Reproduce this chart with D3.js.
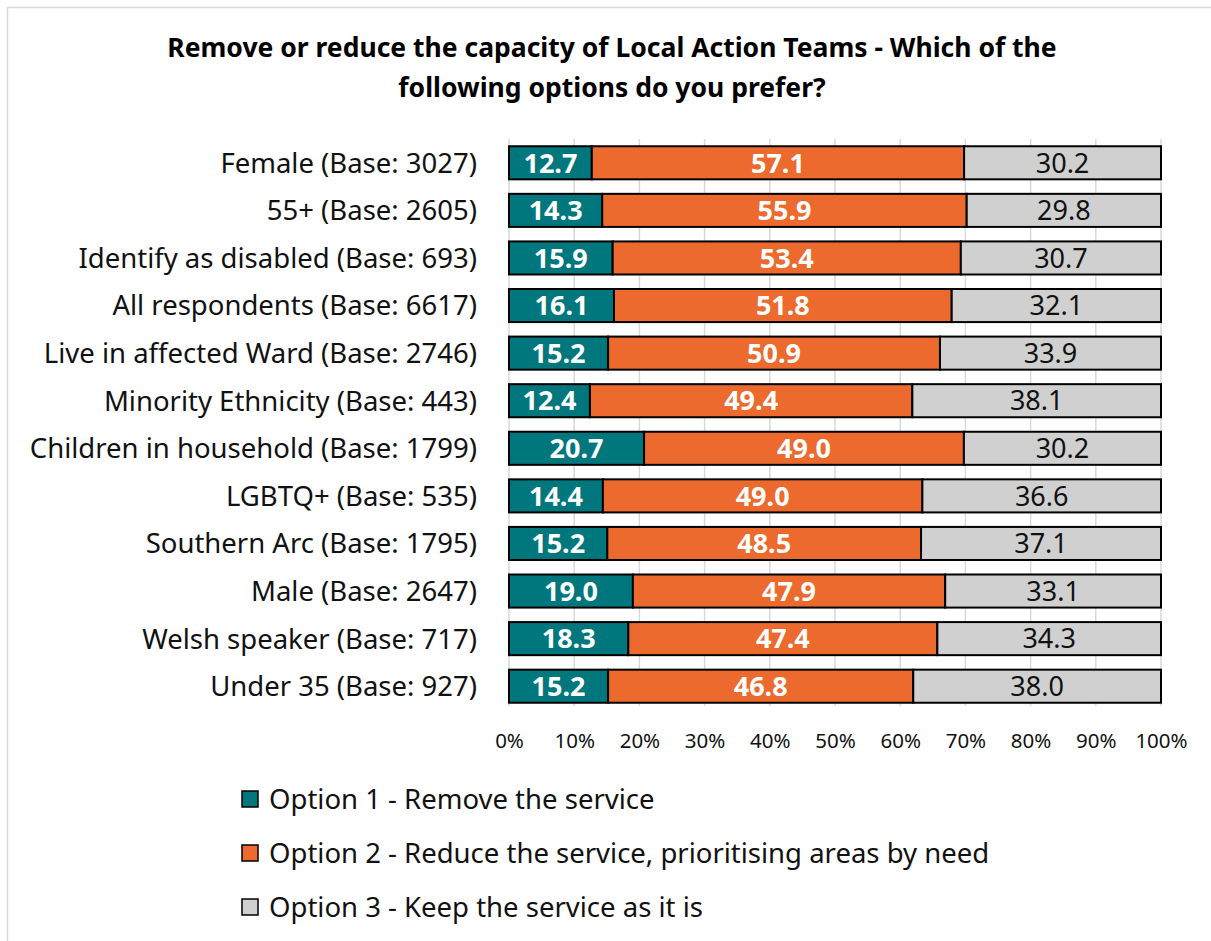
<!DOCTYPE html>
<html>
<head>
<meta charset="utf-8">
<script src="https://cdn.jsdelivr.net/npm/d3@7"></script>
<style>
  body { margin: 0; background: #fff; }
  svg { font-family: "Noto Sans", sans-serif; }
</style>
</head>
<body>
<svg id="chart" width="1211" height="941"></svg>
<script>
// chart data
const categories = [
    "Female (Base: 3027)",
    "55+ (Base: 2605)",
    "Identify as disabled (Base: 693)",
    "All respondents (Base: 6617)",
    "Live in affected Ward (Base: 2746)",
    "Minority Ethnicity (Base: 443)",
    "Children in household (Base: 1799)",
    "LGBTQ+ (Base: 535)",
    "Southern Arc (Base: 1795)",
    "Male (Base: 2647)",
    "Welsh speaker (Base: 717)",
    "Under 35 (Base: 927)"
];
const option1 = [12.7, 14.3, 15.9, 16.1, 15.2, 12.4, 20.7, 14.4, 15.2, 19.0, 18.3, 15.2];
const option2 = [57.1, 55.9, 53.4, 51.8, 50.9, 49.4, 49.0, 49.0, 48.5, 47.9, 47.4, 46.8];
const option3 = [30.2, 29.8, 30.7, 32.1, 33.9, 38.1, 30.2, 36.6, 37.1, 33.1, 34.3, 38.0];
const seriesNames = [
    "Option 1 - Remove the service",
    "Option 2 - Reduce the service, prioritising areas by need",
    "Option 3 - Keep the service as it is"
];
const tickValues = [0, 0.1, 0.2, 0.3, 0.4, 0.5, 0.6, 0.7, 0.8, 0.9, 1];
const titleLines = [
    "Remove or reduce the capacity of Local Action Teams - Which of the",
    "following options do you prefer?"
];

const colors = ["#00777D", "#EC6A2D", "#D0D0D0"];
const labelColors = ["#fff", "#fff", "#111"];

const svg = d3.select("#chart");

// outer border of the chart area
svg.append("rect")
    .attr("x", 7.5).attr("y", 7.5)
    .attr("width", 1220).attr("height", 950)
    .attr("fill", "none")
    .attr("stroke", "#d9d9d9")
    .attr("stroke-width", 1.5);

// title
svg.append("g")
    .selectAll("text")
    .data(titleLines)
    .join("text")
    .attr("x", 612)
    .attr("y", (d, i) => 57 + i * 40)
    .attr("text-anchor", "middle")
    .attr("font-size", 26.5)
    .attr("font-weight", "bold")
    .attr("fill", "#000")
    .text(d => d);

const x = d3.scaleLinear().domain([0, 1]).range([509, 1161]);
const y = d3.scaleBand().domain(categories).range([139, 710]).paddingInner(0.305).paddingOuter(0.1525);

// gridlines
svg.append("g")
    .selectAll("line")
    .data(tickValues)
    .join("line")
    .attr("x1", d => x(d)).attr("x2", d => x(d))
    .attr("y1", 139).attr("y2", 706)
    .attr("stroke", "#d9d9d9")
    .attr("stroke-width", 1.5);

// stack the series, 100% stacked like the original
const rows = categories.map((c, i) => ({ cat: c, o1: option1[i], o2: option2[i], o3: option3[i] }));
const keys = ["o1", "o2", "o3"];
const stacked = d3.stack().keys(keys).offset(d3.stackOffsetExpand)(rows);

const layer = svg.append("g")
    .selectAll("g")
    .data(stacked)
    .join("g")
    .attr("fill", (d, i) => colors[i]);

layer.selectAll("rect")
    .data(d => d)
    .join("rect")
    .attr("x", d => x(d[0]))
    .attr("y", d => y(d.data.cat))
    .attr("width", d => x(d[1]) - x(d[0]))
    .attr("height", y.bandwidth())
    .attr("stroke", "#000")
    .attr("stroke-width", 2);

// value labels
stacked.forEach((s, si) => {
    svg.append("g")
        .selectAll("text")
        .data(s)
        .join("text")
        .attr("x", d => (x(d[0]) + x(d[1])) / 2)
        .attr("y", d => y(d.data.cat) + y.bandwidth() / 2)
        .attr("dy", "0.36em")
        .attr("text-anchor", "middle")
        .attr("font-size", 27)
        .attr("font-weight", si < 2 ? "bold" : "normal")
        .attr("fill", labelColors[si])
        .text(d => d.data[keys[si]].toFixed(1));
});

// category labels
svg.append("g")
    .selectAll("text")
    .data(categories)
    .join("text")
    .attr("x", 477)
    .attr("y", d => y(d) + y.bandwidth() / 2)
    .attr("dy", "0.36em")
    .attr("text-anchor", "end")
    .attr("font-size", 27.5)
    .attr("fill", "#111")
    .text(d => d);

// x axis
const xAxis = svg.append("g")
    .attr("transform", "translate(0,706)")
    .call(d3.axisBottom(x).tickValues(tickValues).tickFormat(d3.format(".0%")).tickSize(0).tickPadding(27));
xAxis.select(".domain").remove();
xAxis.selectAll("text")
    .attr("font-size", 20.5)
    .attr("font-family", "'Noto Sans', sans-serif")
    .attr("fill", "#111");

// legend
const legend = svg.append("g")
    .selectAll("g")
    .data(seriesNames)
    .join("g")
    .attr("transform", (d, i) => `translate(242,${791 + i * 54})`);

legend.append("rect")
    .attr("width", 16).attr("height", 16)
    .attr("fill", (d, i) => colors[i])
    .attr("stroke", "#000")
    .attr("stroke-width", 1.5);

legend.append("text")
    .attr("x", 27)
    .attr("y", 8)
    .attr("dy", "0.36em")
    .attr("font-size", 27.5)
    .attr("fill", "#111")
    .text(d => d);
</script>
</body>
</html>
